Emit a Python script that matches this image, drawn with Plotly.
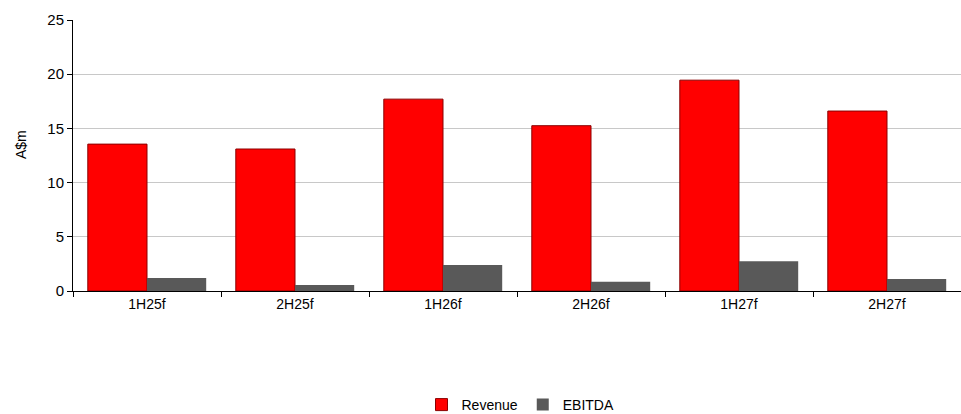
import plotly.graph_objects as go

categories = ["1H25f", "2H25f", "1H26f", "2H26f", "1H27f", "2H27f"]
revenue = [13.55, 13.1, 17.7, 15.25, 19.45, 16.6]
ebitda = [1.2, 0.55, 2.4, 0.85, 2.75, 1.1]
y_ticks = [0, 5, 10, 15, 20, 25]

fig = go.Figure()
fig.add_trace(go.Bar(x=categories, y=revenue, name="Revenue",
                     marker=dict(color="#FF0000", line=dict(color="#8B0000", width=1))))
fig.add_trace(go.Bar(x=categories, y=ebitda, name="EBITDA",
                     marker=dict(color="#595959", line=dict(color="#595959", width=0))))

font = "Liberation Sans, Arial, sans-serif"
plot_w = 961 - 73
plot_h = 414 - 20 - 123
fig.update_layout(
    width=961, height=414,
    margin=dict(l=73, r=0, t=20, b=123, autoexpand=False),
    paper_bgcolor="white", plot_bgcolor="white",
    barmode="group", bargap=0.2, bargroupgap=0,
    font=dict(family=font, size=14, color="#000000"),
    legend=dict(orientation="h", x=0.5 + 40 / 961, xanchor="center", xref="container",
                y=9 / 414, yanchor="middle", yref="container",
                font=dict(size=14), itemwidth=30, traceorder="normal"),
    showlegend=True,
    annotations=[dict(text="A$m", x=(21 - 73) / plot_w, y=(414 - 123 - 145) / plot_h,
                      xref="paper", yref="paper", xanchor="center", yanchor="middle",
                      showarrow=False, textangle=-90, font=dict(size=14))],
)

fig.update_xaxes(
    type="category", showline=True, linecolor="#000000", linewidth=1,
    ticks="outside", tickson="boundaries", ticklen=5, tickcolor="#000000",
    showgrid=False, tickfont=dict(size=14), automargin=False,
)
fig.update_yaxes(
    range=[0, 25], tickvals=y_ticks, showline=True, linecolor="#000000", linewidth=1,
    ticks="outside", ticklen=5, tickcolor="#000000",
    showgrid=True, gridcolor="#C8C8C8", gridwidth=1, zeroline=False,
    tickfont=dict(size=15), automargin=False,
)
fig.write_html("out.html")
